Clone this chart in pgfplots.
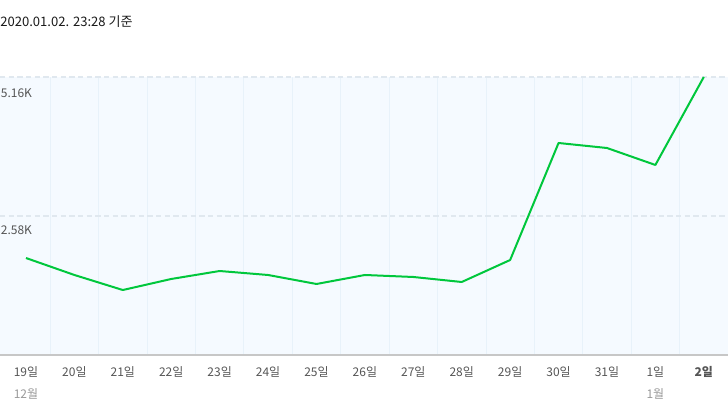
\documentclass[border=0pt]{standalone}
\usepackage{pgfplots}
\pgfplotsset{compat=1.18}
\usepackage{fontspec}
\setmainfont{Noto Sans CJK KR}
\definecolor{bgblue}{HTML}{F5FAFF}
\definecolor{gridblue}{HTML}{E8F2FA}
\definecolor{dashc}{HTML}{E0E8EF}
\definecolor{naver}{HTML}{00C73C}
\definecolor{ticktext}{HTML}{555555}
\definecolor{monthtext}{HTML}{999999}
\begin{document}
\begin{tikzpicture}
\useasboundingbox (0,-45.75pt) rectangle (546pt,266.25pt);
\begin{axis}[
  at={(0pt,0pt)}, anchor=south west,
  scale only axis, width=546pt, height=208.5pt,
  xmin=-0.537, xmax=14.5, ymin=0, ymax=5160,
  clip=false,
  axis background/.style={fill=bgblue},
  axis line style={draw=none},
  xtick={0,...,14},
  xticklabels={19일,20일,21일,22일,23일,24일,25일,26일,27일,28일,29일,30일,31일,1일,\textbf{2일}},
  xticklabel style={text=ticktext, font=\fontsize{9pt}{10pt}\selectfont, yshift=-5pt},
  major tick length=0pt, minor tick length=0pt,
  minor xtick={0.5,1.5,...,13.5},
  xminorgrids,
  minor grid style={gridblue, line width=0.6pt},
  ytick={2580,5160}, yticklabels={},
  ymajorgrids,
  major grid style={dashc, line width=0.8pt, dash pattern=on 4pt off 2.5pt},
]
\addplot[naver, line width=1.5pt, line join=round] coordinates {
(0,1800) (1,1485) (2,1206) (3,1411) (4,1559) (5,1485) (6,1318) (7,1485)
(8,1448) (9,1355) (10,1763) (11,3935) (12,3842) (13,3527) (14,5160)};
\draw[black!22, line width=0.8pt] (rel axis cs:0,0) -- (rel axis cs:1,0);
\node[anchor=west, text=ticktext, font=\fontsize{9pt}{10pt}\selectfont, inner sep=0pt] at (axis cs:-0.537,5160) [yshift=-12pt, xshift=0.5pt] {5.16K};
\node[anchor=west, text=ticktext, font=\fontsize{9pt}{10pt}\selectfont, inner sep=0pt] at (axis cs:-0.537,2580) [yshift=-11pt, xshift=0.5pt] {2.58K};
\node[text=monthtext, font=\fontsize{9pt}{10pt}\selectfont, inner sep=0pt] at (axis cs:0,0) [yshift=-29.25pt] {12월};
\node[text=monthtext, font=\fontsize{9pt}{10pt}\selectfont, inner sep=0pt] at (axis cs:13,0) [yshift=-29.25pt] {1월};
\end{axis}
\node[anchor=west, inner sep=0pt, font=\fontsize{9.8pt}{11pt}\selectfont, text=black!90] at (0pt,249.75pt) {2020.01.02. 23:28 기준};
\end{tikzpicture}
\end{document}
